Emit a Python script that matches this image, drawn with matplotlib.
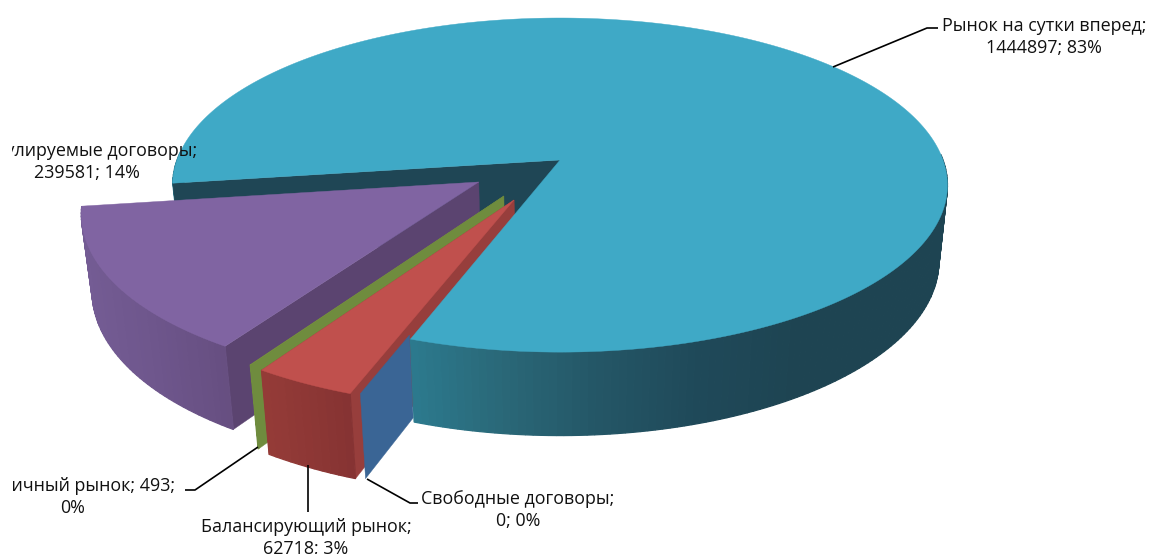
import numpy as np
import matplotlib
matplotlib.use("Agg")
import matplotlib.pyplot as plt
from matplotlib.transforms import Bbox, TransformedBbox

# data, clockwise from the start angle
categories = ["Рынок на сутки вперед", "Свободные договоры", "Балансирующий рынок",
              "Розничный рынок", "Регулируемые договоры"]
values = [1444897, 0, 62718, 493, 239581]
percents = [83, 0, 3, 0, 14]

# style
top_colors = ["#3FA9C6", "#3A6595", "#C0504D", "#76923C", "#8064A2"]
cut_colors = ["#1F4655", "#3A6595", "#973E3C", "#6F8C3E", "#5B4470"]
edge_x = [[410, 500, 600, 700, 800, 950], [0, 1], [255, 360], [245, 265], [80, 150, 230]]
edge_rgb = [[(44, 122, 142), (42, 104, 120), (36, 86, 102), (31, 73, 89), (30, 68, 82), (30, 68, 82)],
            [(58, 101, 149)] * 2,
            [(150, 60, 56), (132, 50, 50)],
            [(111, 140, 62)] * 2,
            [(116, 92, 148), (110, 86, 140), (102, 78, 128)]]
# slice apex offsets on the pie plane
explode_u = [0.004, -0.09, -0.112, -0.138, -0.204]
explode_v = [0.0, -0.236, -0.236, -0.213, -0.132]
free_inner_r = 0.73  # the zero slice only shows its outer part

start_angle = 188.0
cx, cy = 558.5, 160.0
A, B, D = 383.0, 163.3, 77.0
k, m = 0.15, 0.022


def project(u, v, d=0.0):
    w = 1 + k * np.asarray(v) + m * d
    return cx + A * np.asarray(u) / w, cy + (-B * np.asarray(v) + D * d) / w


def wall_quad(ax, u, v, color, lw=0.3):
    # side face under a path on the plane
    x0, y0 = project(u, v, 0)
    x1, y1 = project(u[::-1], v[::-1], 1)
    ax.fill(np.r_[x0, x1], np.r_[y0, y1], color=color, lw=lw)


fig = plt.figure(figsize=(11.5, 5.54), dpi=100)
ax = fig.add_axes([0, 0, 1, 1])
ax.set_xlim(0, 1150)
ax.set_ylim(554, 0)
ax.axis("off")

sweeps = np.array(values) / sum(values) * 360
ends = start_angle - np.cumsum(sweeps)
starts = ends + sweeps

arcs = []
for i in range(len(values)):
    t = np.radians(np.linspace(starts[i], ends[i], max(int(sweeps[i]), 2)))
    arcs.append((explode_u[i] + np.cos(t), explode_v[i] + np.sin(t)))


def cut_wall(i, first=True, inner=0.0):
    u, v = arcs[i]
    j = 0 if first else -1
    ua = explode_u[i] + inner * (u[j] - explode_u[i])
    va = explode_v[i] + inner * (v[j] - explode_v[i])
    wall_quad(ax, np.array([ua, u[j]]), np.array([va, v[j]]), cut_colors[i])


def outer_wall(i, back=None):
    # back=True only the left/back part of the rim, back=False the rest
    u, v = arcs[i]
    for n in range(len(u) - 1):
        if v[n] > 0.05:
            continue
        is_back = u[n] < 0 and v[n] > -0.5
        if back is not None and is_back != back:
            continue
        xm = project(u[n:n + 2], v[n:n + 2])[0].mean()
        rgb = [np.interp(xm, edge_x[i], [c[ch] for c in edge_rgb[i]]) / 255 for ch in range(3)]
        wall_quad(ax, u[n:n + 2], v[n:n + 2], rgb, lw=0.9)


def top_face(i):
    u, v = arcs[i]
    x, y = project(np.r_[explode_u[i], u], np.r_[explode_v[i], v])
    ax.fill(x, y, color=top_colors[i], lw=0.3)


# back to front, the big slice's top goes last and hides what runs under it
outer_wall(0, back=True)
cut_wall(0, first=True)
cut_wall(4, first=True)
outer_wall(4)
top_face(4)
cut_wall(3)
outer_wall(3)
top_face(3)
cut_wall(2, first=True)
cut_wall(2, first=False)
outer_wall(2)
top_face(2)
cut_wall(1, inner=free_inner_r)
outer_wall(0, back=False)
top_face(0)

# leader lines
lc = dict(color="black", lw=1.2, solid_capstyle="butt")
ax.plot([833, 927, 938], [67, 28, 28], **lc)
ax.plot([258, 195, 185], [447, 490, 490], **lc)
ax.plot([308, 308], [465, 512], **lc)
ax.plot([367, 410, 418], [479, 503, 503], **lc)

labels = [
    (f"{categories[0]};\n{values[0]}; {percents[0]}%", 1044, 37),
    (f"{categories[1]};\n{values[1]}; {percents[1]}%", 518, 510),
    (f"{categories[2]};\n{values[2]}; {percents[2]}%", 306, 538),
    (f"{categories[3]}; {values[3]};\n{percents[3]}%", 73, 497),
    (f"{categories[4]};\n{values[4]}; {percents[4]}%", 87, 162),
]
keep = TransformedBbox(Bbox([[12, 0], [1150, 554]]), ax.transData)
for s, x, y in labels:
    t = ax.text(x, y, s, ha="center", va="center", fontsize=12.9, family="Open Sans",
                color="#111111", linespacing=1.25)
    t.set_clip_on(True)
    t.set_clip_box(keep)

plt.savefig("out.png", dpi=100)
